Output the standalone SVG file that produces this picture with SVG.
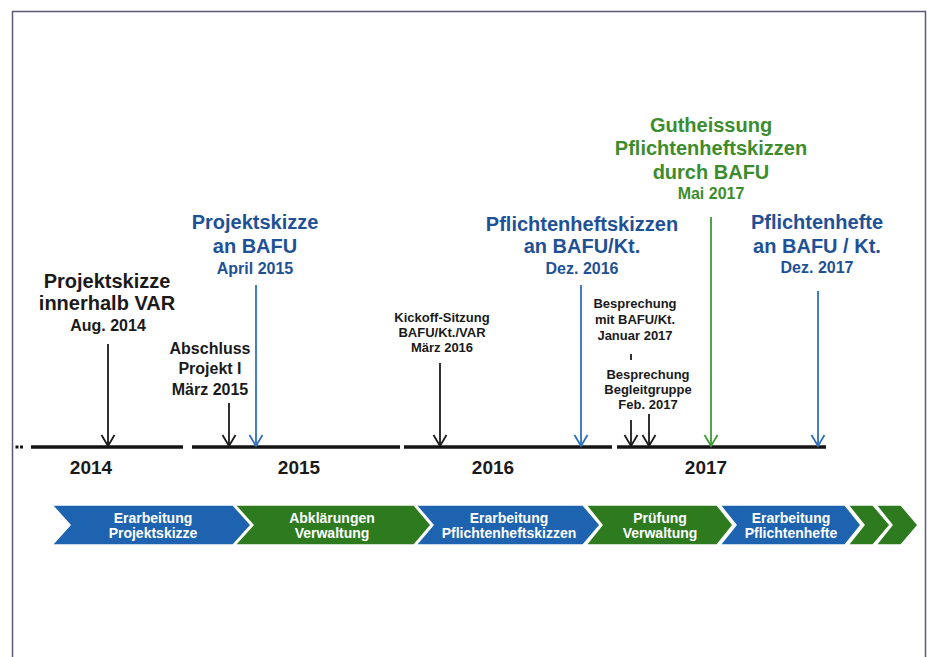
<svg xmlns="http://www.w3.org/2000/svg" width="927" height="657" viewBox="0 0 927 657">
<defs>
<style>
text{font-family:"Liberation Sans",Arial,sans-serif;font-weight:bold;text-anchor:middle}
.big{font-size:20px}
.mid{font-size:16px}
.sm{font-size:13px}
.yr{font-size:19px;fill:#1a1a1a}
.k{fill:#1a1a1a}
.b{fill:#1f5197}
.g{fill:#3d8c2c}
.ch{font-size:14px;fill:#ffffff}
.ab{stroke:#1a1a1a;stroke-width:1.8;fill:none}
.ab-b{stroke:#2f6fbd;stroke-width:1.8;fill:none}
.ab-g{stroke:#3f9a38;stroke-width:1.8;fill:none}
.tl{stroke:#141414;stroke-width:3.5}
.cb{fill:#1d63b0;stroke:#ffffff;stroke-width:1.5}
.cg{fill:#2d7a1f;stroke:#ffffff;stroke-width:1.5}
</style>
<marker id="mk" markerUnits="userSpaceOnUse" orient="auto" refX="0" refY="0" markerWidth="14" markerHeight="16" viewBox="-12 -8 14 16" overflow="visible"><path d="M-11,-6.5 L0,0 L-11,6.5" fill="none" stroke="#1a1a1a" stroke-width="1.8"/></marker>
<marker id="mb" markerUnits="userSpaceOnUse" orient="auto" refX="0" refY="0" markerWidth="14" markerHeight="16" viewBox="-12 -8 14 16" overflow="visible"><path d="M-11,-6.5 L0,0 L-11,6.5" fill="none" stroke="#2f6fbd" stroke-width="1.8"/></marker>
<marker id="mg" markerUnits="userSpaceOnUse" orient="auto" refX="0" refY="0" markerWidth="14" markerHeight="16" viewBox="-12 -8 14 16" overflow="visible"><path d="M-11,-6.5 L0,0 L-11,6.5" fill="none" stroke="#3f9a38" stroke-width="1.8"/></marker>
</defs>
<rect width="927" height="657" fill="#ffffff"/>
<path d="M12.5,657 V11.5 H925.5 V657" fill="none" stroke="#5b5a78" stroke-width="1.5"/>

<g id="timeline">
<rect x="15.5" y="445.5" width="3" height="3" fill="#141414"/>
<rect x="20" y="445.5" width="3" height="3" fill="#141414"/>
<line class="tl" x1="31" y1="447" x2="183" y2="447"/>
<line class="tl" x1="192" y1="447" x2="400" y2="447"/>
<line class="tl" x1="404" y1="447" x2="612" y2="447"/>
<line class="tl" x1="617" y1="447" x2="826" y2="447"/>
<text class="yr" x="91" y="474">2014</text>
<text class="yr" x="299" y="474">2015</text>
<text class="yr" x="493" y="474">2016</text>
<text class="yr" x="706" y="474">2017</text>
</g>

<g id="connectors">
<line class="ab" x1="108" y1="344" x2="108" y2="446" marker-end="url(#mk)"/>
<line class="ab" x1="229" y1="403" x2="229" y2="446" marker-end="url(#mk)"/>
<line class="ab-b" x1="256" y1="285" x2="256" y2="446" marker-end="url(#mb)"/>
<line class="ab" x1="440" y1="363" x2="440" y2="446" marker-end="url(#mk)"/>
<line class="ab-b" x1="581" y1="285" x2="581" y2="446" marker-end="url(#mb)"/>
<line class="ab" x1="631" y1="354" x2="631" y2="360"/>
<line class="ab" x1="631" y1="420" x2="631" y2="446" marker-end="url(#mk)"/>
<line class="ab" x1="649" y1="414" x2="649" y2="446" marker-end="url(#mk)"/>
<line class="ab-g" x1="711" y1="217" x2="711" y2="446" marker-end="url(#mg)"/>
<line class="ab-b" x1="818" y1="291" x2="818" y2="446" marker-end="url(#mb)"/>
</g>

<g id="ev-aug2014">
<text class="big k" x="107" y="288">Projektskizze</text>
<text class="big k" x="107" y="310">innerhalb VAR</text>
<text class="mid k" x="108" y="331">Aug. 2014</text>
</g>
<g id="ev-maerz2015">
<text class="mid k" x="210" y="354">Abschluss</text>
<text class="mid k" x="210" y="374">Projekt I</text>
<text class="mid k" x="210" y="395">März 2015</text>
</g>
<g id="ev-april2015">
<text class="big b" x="255" y="229">Projektskizze</text>
<text class="big b" x="255" y="253">an BAFU</text>
<text class="mid b" x="255" y="274">April 2015</text>
</g>
<g id="ev-maerz2016">
<text class="sm k" x="442" y="322">Kickoff-Sitzung</text>
<text class="sm k" x="442" y="337">BAFU/Kt./VAR</text>
<text class="sm k" x="442" y="352">März 2016</text>
</g>
<g id="ev-dez2016">
<text class="big b" x="582" y="231">Pflichtenheftskizzen</text>
<text class="big b" x="582" y="253">an BAFU/Kt.</text>
<text class="mid b" x="582" y="274">Dez. 2016</text>
</g>
<g id="ev-jan2017">
<text class="sm k" x="635" y="308">Besprechung</text>
<text class="sm k" x="635" y="324">mit BAFU/Kt.</text>
<text class="sm k" x="635" y="340">Januar 2017</text>
</g>
<g id="ev-feb2017">
<text class="sm k" x="648" y="379">Besprechung</text>
<text class="sm k" x="648" y="394">Begleitgruppe</text>
<text class="sm k" x="648" y="409">Feb. 2017</text>
</g>
<g id="ev-mai2017">
<text class="big g" x="711" y="132">Gutheissung</text>
<text class="big g" x="711" y="155">Pflichtenheftskizzen</text>
<text class="big g" x="711" y="179">durch BAFU</text>
<text class="mid g" x="711" y="199">Mai 2017</text>
</g>
<g id="ev-dez2017">
<text class="big b" x="817" y="229">Pflichtenhefte</text>
<text class="big b" x="817" y="253">an BAFU / Kt.</text>
<text class="mid b" x="817" y="273">Dez. 2017</text>
</g>

<g id="phase-1">
<polygon class="cb" points="52,505 233,505 251,525 233,545 52,545 70,525"/>
<text class="ch" x="153" y="523">Erarbeitung</text>
<text class="ch" x="153" y="538">Projektskizze</text>
</g>
<g id="phase-2">
<polygon class="cg" points="235,505 414,505 431,525 414,545 235,545 253,525"/>
<text class="ch" x="332" y="523">Abklärungen</text>
<text class="ch" x="332" y="538">Verwaltung</text>
</g>
<g id="phase-3">
<polygon class="cb" points="416,505 583,505 600,525 583,545 416,545 433,525"/>
<text class="ch" x="509" y="523">Erarbeitung</text>
<text class="ch" x="509" y="538">Pflichtenheftskizzen</text>
</g>
<g id="phase-4">
<polygon class="cg" points="586,505 717,505 733,525 717,545 586,545 602,525"/>
<text class="ch" x="660" y="523">Prüfung</text>
<text class="ch" x="660" y="538">Verwaltung</text>
</g>
<g id="phase-5">
<polygon class="cb" points="720,505 845,505 861,525 845,545 720,545 736,525"/>
<text class="ch" x="791" y="523">Erarbeitung</text>
<text class="ch" x="791" y="538">Pflichtenhefte</text>
</g>
<g id="phase-6">
<polygon class="cg" points="848,505 873,505 890,525 873,545 848,545 864,525"/>
</g>
<g id="phase-7">
<polygon class="cg" points="876,505 901,505 918,525 901,545 876,545 892,525"/>
</g>
</svg>
